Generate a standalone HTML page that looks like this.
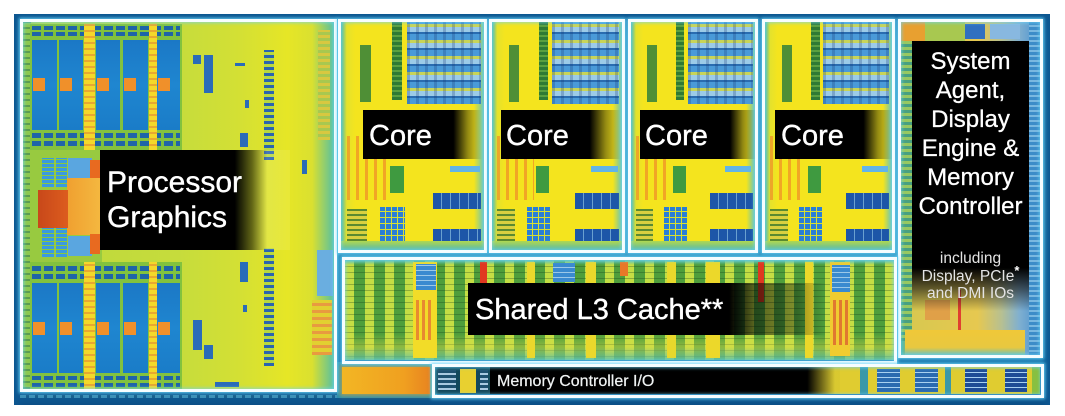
<!DOCTYPE html>
<html><head><meta charset="utf-8">
<style>
*{margin:0;padding:0;box-sizing:border-box}
body{width:1065px;height:416px;background:#fff;position:relative;overflow:hidden;font-family:"Liberation Sans",sans-serif}
.a{position:absolute}
.fr{position:absolute;border:3px solid #f6fdff;box-shadow:0 0 3px 1px rgba(110,215,250,.9),inset 0 0 3px 1px rgba(110,215,250,.7)}
.t{position:absolute;color:#fff;white-space:nowrap}
.blu{background:linear-gradient(180deg,#1b78c6,#1f86d0 50%,#1a7cc8)}
.bar{background:repeating-linear-gradient(90deg,#1e64a8 0 9px,#7cc03c 9px 12px)}
.ys{background:repeating-linear-gradient(0deg,#f4d82a 0 4px,#e8a830 4px 6px)}
.og{background:#f0902a}
.sb{background:#2a6cb8}
.core{position:absolute;top:22px;height:228px;background:linear-gradient(90deg,#4ab8a8 0,#e4e22c 4%,#f4e41e 10%,#f4e41e 93%,#66c4b8 100%);overflow:hidden}
.core i{position:absolute;display:block}
.lab{position:absolute;top:110px;height:49px}
.tr{background:repeating-linear-gradient(90deg,rgba(20,50,110,.25) 0 3px,rgba(0,0,0,0) 3px 9px),repeating-linear-gradient(0deg,#4a9ad8 0 6px,#2a6cb0 6px 8px,#9ccbe8 8px 13px,#c8d458 13px 16px)}
</style></head><body>

<!-- die background -->
<div class="a" style="left:14px;top:14px;width:1036px;height:391px;background:linear-gradient(180deg,#0c5690,#1470a8 6%,#2a8cb8 50%,#1470a8 94%,#0b4e86)"></div>
<div class="a" style="left:14px;top:14px;width:1036px;height:391px;background:linear-gradient(90deg,#0c5690 0,rgba(0,0,0,0) 1%,rgba(0,0,0,0) 99%,#0c5690 100%)"></div>
<div class="a" style="left:20px;top:395px;width:420px;height:3px;background:repeating-linear-gradient(90deg,#3c90b8 0 6px,#18608e 6px 9px)"></div>

<!-- ============ GRAPHICS ============ -->
<div class="a" style="left:23px;top:22px;width:311px;height:367px;background:linear-gradient(90deg,#9ccc44 0,#bcd83c 5%,#c6dc3c 50%,#d4e034 70%,#e6e626 85%,#dae030 93%,#58c0a0 100%)"></div>
<div class="a" style="left:23px;top:22px;width:8px;height:367px;background:repeating-linear-gradient(0deg,#5a9c50 0 2px,#8cc850 2px 6px)"></div>

<!-- top EU -->
<div class="a" style="left:30px;top:24px;width:152px;height:126px;background:#82c23e"></div>
<div class="a bar" style="left:32px;top:26px;width:148px;height:4px"></div>
<div class="a bar" style="left:32px;top:32px;width:148px;height:4px"></div>
<div class="a blu" style="left:32px;top:40px;width:25px;height:90px"></div>
<div class="a blu" style="left:59px;top:40px;width:24px;height:90px"></div>
<div class="a blu" style="left:96px;top:40px;width:24px;height:90px"></div>
<div class="a blu" style="left:123px;top:40px;width:25px;height:90px"></div>
<div class="a blu" style="left:157px;top:40px;width:23px;height:90px"></div>
<div class="a og" style="left:33px;top:78px;width:12px;height:13px"></div>
<div class="a og" style="left:60px;top:78px;width:12px;height:13px"></div>
<div class="a og" style="left:97px;top:78px;width:12px;height:13px"></div>
<div class="a og" style="left:124px;top:78px;width:12px;height:13px"></div>
<div class="a og" style="left:158px;top:78px;width:12px;height:13px"></div>
<div class="a bar" style="left:32px;top:133px;width:148px;height:5px"></div>
<div class="a bar" style="left:32px;top:141px;width:148px;height:5px"></div>
<div class="a ys" style="left:84px;top:24px;width:11px;height:126px"></div>
<div class="a ys" style="left:149px;top:24px;width:8px;height:126px"></div>

<!-- middle left -->
<div class="a" style="left:30px;top:150px;width:72px;height:112px;background:#98ca40"></div>
<div class="a" style="left:42px;top:158px;width:12px;height:29px;background:repeating-linear-gradient(0deg,#3a9ae0 0 3px,#88c840 3px 4px)"></div>
<div class="a" style="left:56px;top:158px;width:11px;height:29px;background:repeating-linear-gradient(0deg,#3a9ae0 0 3px,#88c840 3px 4px)"></div>
<div class="a" style="left:68px;top:158px;width:24px;height:20px;background:#5aa6e0"></div>
<div class="a" style="left:90px;top:160px;width:10px;height:20px;background:#e86a20"></div>
<div class="a" style="left:67px;top:178px;width:34px;height:57px;background:linear-gradient(90deg,#f0a030,#f4b840)"></div>
<div class="a" style="left:38px;top:190px;width:30px;height:38px;background:linear-gradient(90deg,#c8481a,#dc5c1e)"></div>
<div class="a" style="left:42px;top:228px;width:12px;height:29px;background:repeating-linear-gradient(0deg,#3a9ae0 0 3px,#88c840 3px 4px)"></div>
<div class="a" style="left:56px;top:228px;width:11px;height:29px;background:repeating-linear-gradient(0deg,#3a9ae0 0 3px,#88c840 3px 4px)"></div>
<div class="a" style="left:68px;top:236px;width:24px;height:20px;background:#5aa6e0"></div>
<div class="a" style="left:90px;top:234px;width:10px;height:20px;background:#e86a20"></div>

<!-- bottom EU -->
<div class="a" style="left:30px;top:262px;width:152px;height:128px;background:#82c23e"></div>
<div class="a bar" style="left:32px;top:266px;width:148px;height:5px"></div>
<div class="a bar" style="left:32px;top:274px;width:148px;height:5px"></div>
<div class="a blu" style="left:32px;top:283px;width:25px;height:90px"></div>
<div class="a blu" style="left:59px;top:283px;width:24px;height:90px"></div>
<div class="a blu" style="left:96px;top:283px;width:24px;height:90px"></div>
<div class="a blu" style="left:123px;top:283px;width:25px;height:90px"></div>
<div class="a blu" style="left:157px;top:283px;width:23px;height:90px"></div>
<div class="a og" style="left:33px;top:322px;width:12px;height:13px"></div>
<div class="a og" style="left:60px;top:322px;width:12px;height:13px"></div>
<div class="a og" style="left:97px;top:322px;width:12px;height:13px"></div>
<div class="a og" style="left:124px;top:322px;width:12px;height:13px"></div>
<div class="a og" style="left:158px;top:322px;width:12px;height:13px"></div>
<div class="a bar" style="left:32px;top:376px;width:148px;height:4px"></div>
<div class="a bar" style="left:32px;top:383px;width:148px;height:4px"></div>
<div class="a ys" style="left:84px;top:262px;width:11px;height:128px"></div>
<div class="a ys" style="left:149px;top:262px;width:8px;height:128px"></div>

<!-- scattered graphics blocks -->
<div class="a sb" style="left:193px;top:55px;width:8px;height:9px"></div>
<div class="a sb" style="left:204px;top:55px;width:9px;height:38px"></div>
<div class="a sb" style="left:235px;top:63px;width:10px;height:3px"></div>
<div class="a" style="left:264px;top:50px;width:10px;height:110px;background:repeating-linear-gradient(0deg,#2a64b0 0 3px,#b8d840 3px 6px)"></div>
<div class="a sb" style="left:240px;top:133px;width:8px;height:14px"></div>
<div class="a sb" style="left:245px;top:100px;width:4px;height:8px"></div>
<div class="a sb" style="left:302px;top:160px;width:5px;height:14px"></div>
<div class="a sb" style="left:193px;top:320px;width:9px;height:30px"></div>
<div class="a sb" style="left:204px;top:345px;width:9px;height:14px"></div>
<div class="a" style="left:264px;top:248px;width:10px;height:118px;background:repeating-linear-gradient(0deg,#2a64b0 0 3px,#b8d840 3px 6px)"></div>
<div class="a sb" style="left:240px;top:262px;width:8px;height:20px"></div>
<div class="a sb" style="left:243px;top:305px;width:4px;height:7px"></div>
<div class="a" style="left:317px;top:250px;width:16px;height:46px;background:#6aaee0"></div>
<div class="a" style="left:312px;top:300px;width:20px;height:55px;background:repeating-linear-gradient(0deg,#e89a40 0 3px,#e2d030 3px 7px)"></div>
<div class="a sb" style="left:215px;top:382px;width:24px;height:5px"></div>
<div class="a" style="left:318px;top:30px;width:12px;height:110px;background:repeating-linear-gradient(0deg,#d8c840 0 3px,#a8c850 3px 6px)"></div>

<!-- ============ CORES ============ -->
<div class="core" style="left:341px;width:143px">
  <i style="left:36%;width:7%;top:0;height:34%;background:repeating-linear-gradient(0deg,#2f7a34 0 3px,#5aa040 3px 5px)"></i>
  <i class="tr" style="left:46%;width:52%;top:0;height:36%"></i>
  <i style="left:13%;width:8%;top:10%;height:25%;background:#4f8f36"></i>
  <i style="left:4%;width:28%;top:50%;height:28%;background:repeating-linear-gradient(90deg,rgba(240,140,40,.7) 0 3px,transparent 3px 9px)"></i>
  <i style="left:76%;width:21%;top:63%;height:3%;background:#62b4e8"></i>
  <i style="left:34%;width:10%;top:63%;height:12%;background:#3f9a40"></i>
  <i style="left:64%;width:34%;top:75%;height:7%;background:repeating-linear-gradient(90deg,#1d56a8 0 8px,#6aa0d0 8px 9px)"></i>
  <i style="left:64%;width:34%;top:91%;height:6%;background:repeating-linear-gradient(90deg,#1d56a8 0 8px,#6aa0d0 8px 9px)"></i>
  <i style="left:27%;width:18%;top:81%;height:15%;background:repeating-linear-gradient(0deg,transparent 0 5px,#d8e030 5px 6px),repeating-linear-gradient(90deg,#2a7ed6 0 5px,#d8e030 5px 6px)"></i>
  <i style="left:4%;width:14%;top:82%;height:14%;background:repeating-linear-gradient(0deg,#5a8a30 0 2px,#d8d040 2px 5px)"></i>
  <i style="left:0;width:100%;top:96%;height:4%;background:linear-gradient(#b0d850,#58b8a8)"></i>
</div>
<div class="core" style="left:492px;width:130px">
  <i style="left:36%;width:7%;top:0;height:34%;background:repeating-linear-gradient(0deg,#2f7a34 0 3px,#5aa040 3px 5px)"></i>
  <i class="tr" style="left:46%;width:52%;top:0;height:36%"></i>
  <i style="left:13%;width:8%;top:10%;height:25%;background:#4f8f36"></i>
  <i style="left:4%;width:28%;top:50%;height:28%;background:repeating-linear-gradient(90deg,rgba(240,140,40,.7) 0 3px,transparent 3px 9px)"></i>
  <i style="left:76%;width:21%;top:63%;height:3%;background:#62b4e8"></i>
  <i style="left:34%;width:10%;top:63%;height:12%;background:#3f9a40"></i>
  <i style="left:64%;width:34%;top:75%;height:7%;background:repeating-linear-gradient(90deg,#1d56a8 0 8px,#6aa0d0 8px 9px)"></i>
  <i style="left:64%;width:34%;top:91%;height:6%;background:repeating-linear-gradient(90deg,#1d56a8 0 8px,#6aa0d0 8px 9px)"></i>
  <i style="left:27%;width:18%;top:81%;height:15%;background:repeating-linear-gradient(0deg,transparent 0 5px,#d8e030 5px 6px),repeating-linear-gradient(90deg,#2a7ed6 0 5px,#d8e030 5px 6px)"></i>
  <i style="left:4%;width:14%;top:82%;height:14%;background:repeating-linear-gradient(0deg,#5a8a30 0 2px,#d8d040 2px 5px)"></i>
  <i style="left:0;width:100%;top:96%;height:4%;background:linear-gradient(#b0d850,#58b8a8)"></i>
</div>
<div class="core" style="left:631px;width:124px">
  <i style="left:36%;width:7%;top:0;height:34%;background:repeating-linear-gradient(0deg,#2f7a34 0 3px,#5aa040 3px 5px)"></i>
  <i class="tr" style="left:46%;width:52%;top:0;height:36%"></i>
  <i style="left:13%;width:8%;top:10%;height:25%;background:#4f8f36"></i>
  <i style="left:4%;width:28%;top:50%;height:28%;background:repeating-linear-gradient(90deg,rgba(240,140,40,.7) 0 3px,transparent 3px 9px)"></i>
  <i style="left:76%;width:21%;top:63%;height:3%;background:#62b4e8"></i>
  <i style="left:34%;width:10%;top:63%;height:12%;background:#3f9a40"></i>
  <i style="left:64%;width:34%;top:75%;height:7%;background:repeating-linear-gradient(90deg,#1d56a8 0 8px,#6aa0d0 8px 9px)"></i>
  <i style="left:64%;width:34%;top:91%;height:6%;background:repeating-linear-gradient(90deg,#1d56a8 0 8px,#6aa0d0 8px 9px)"></i>
  <i style="left:27%;width:18%;top:81%;height:15%;background:repeating-linear-gradient(0deg,transparent 0 5px,#d8e030 5px 6px),repeating-linear-gradient(90deg,#2a7ed6 0 5px,#d8e030 5px 6px)"></i>
  <i style="left:4%;width:14%;top:82%;height:14%;background:repeating-linear-gradient(0deg,#5a8a30 0 2px,#d8d040 2px 5px)"></i>
  <i style="left:0;width:100%;top:96%;height:4%;background:linear-gradient(#b0d850,#58b8a8)"></i>
</div>
<div class="core" style="left:765px;width:127px">
  <i style="left:36%;width:7%;top:0;height:34%;background:repeating-linear-gradient(0deg,#2f7a34 0 3px,#5aa040 3px 5px)"></i>
  <i class="tr" style="left:46%;width:52%;top:0;height:36%"></i>
  <i style="left:13%;width:8%;top:10%;height:25%;background:#4f8f36"></i>
  <i style="left:4%;width:28%;top:50%;height:28%;background:repeating-linear-gradient(90deg,rgba(240,140,40,.7) 0 3px,transparent 3px 9px)"></i>
  <i style="left:76%;width:21%;top:63%;height:3%;background:#62b4e8"></i>
  <i style="left:34%;width:10%;top:63%;height:12%;background:#3f9a40"></i>
  <i style="left:64%;width:34%;top:75%;height:7%;background:repeating-linear-gradient(90deg,#1d56a8 0 8px,#6aa0d0 8px 9px)"></i>
  <i style="left:64%;width:34%;top:91%;height:6%;background:repeating-linear-gradient(90deg,#1d56a8 0 8px,#6aa0d0 8px 9px)"></i>
  <i style="left:27%;width:18%;top:81%;height:15%;background:repeating-linear-gradient(0deg,transparent 0 5px,#d8e030 5px 6px),repeating-linear-gradient(90deg,#2a7ed6 0 5px,#d8e030 5px 6px)"></i>
  <i style="left:4%;width:14%;top:82%;height:14%;background:repeating-linear-gradient(0deg,#5a8a30 0 2px,#d8d040 2px 5px)"></i>
  <i style="left:0;width:100%;top:96%;height:4%;background:linear-gradient(#b0d850,#58b8a8)"></i>
</div>

<!-- ============ L3 ============ -->
<div class="a" style="left:345px;top:260px;width:549px;height:100px;background:repeating-linear-gradient(180deg,rgba(20,60,20,.3) 0 1px,rgba(0,0,0,0) 1px 6px),repeating-linear-gradient(90deg,#c4de44 0 9px,#4e9e3c 9px 20px)"></div>
<div class="a" style="left:345px;top:260px;width:549px;height:5px;background:linear-gradient(#5cc0b0,rgba(92,192,176,0))"></div>
<div class="a" style="left:345px;top:334px;width:549px;height:26px;background:linear-gradient(rgba(230,220,60,0),rgba(220,220,70,.45) 50%,rgba(90,190,170,.8))"></div>
<div class="a" style="left:413px;top:262px;width:24px;height:96px;background:#f2dc28"></div>
<div class="a" style="left:416px;top:264px;width:20px;height:26px;background:repeating-linear-gradient(0deg,#3a8ad0 0 4px,#9cc8e8 4px 5px)"></div>
<div class="a" style="left:416px;top:300px;width:18px;height:40px;background:repeating-linear-gradient(90deg,#e88a30 0 3px,#f2dc28 3px 6px)"></div>
<div class="a" style="left:480px;top:262px;width:7px;height:22px;background:#e03820"></div>
<div class="a" style="left:527px;top:262px;width:8px;height:96px;background:#ead82c"></div>
<div class="a" style="left:553px;top:263px;width:22px;height:19px;background:repeating-linear-gradient(0deg,#3a8ad0 0 4px,#9cc8e8 4px 5px)"></div>
<div class="a" style="left:586px;top:262px;width:10px;height:96px;background:#ead82c"></div>
<div class="a" style="left:620px;top:262px;width:8px;height:14px;background:#e87828"></div>
<div class="a" style="left:667px;top:262px;width:9px;height:96px;background:#e8d82c"></div>
<div class="a" style="left:706px;top:262px;width:14px;height:96px;background:#ecd82a"></div>
<div class="a" style="left:758px;top:262px;width:6px;height:40px;background:#e03820"></div>
<div class="a" style="left:805px;top:262px;width:8px;height:96px;background:#ecd82a"></div>
<div class="a" style="left:830px;top:262px;width:20px;height:94px;background:#f0cc30"></div>
<div class="a" style="left:832px;top:265px;width:18px;height:27px;background:repeating-linear-gradient(0deg,#3a8ad0 0 4px,#9cc8e8 4px 5px)"></div>
<div class="a" style="left:833px;top:300px;width:16px;height:45px;background:repeating-linear-gradient(90deg,#e07830 0 3px,#f0cc30 3px 6px)"></div>

<!-- ============ SYSTEM AGENT ============ -->
<div class="a" style="left:901px;top:22px;width:139px;height:333px;background:linear-gradient(90deg,#40b0a0 0,#d8c850 8%,#e6c850 55%,#b8c090 72%,#80b0d0 85%,#4890d0 100%)"></div>
<div class="a" style="left:901px;top:22px;width:24px;height:19px;background:#e8a030"></div>
<div class="a" style="left:925px;top:22px;width:40px;height:19px;background:#a8c850"></div>
<div class="a" style="left:965px;top:24px;width:20px;height:15px;background:#3070c0"></div>
<div class="a" style="left:990px;top:24px;width:30px;height:15px;background:#88b8e0"></div>
<div class="a" style="left:1029px;top:22px;width:11px;height:333px;background:repeating-linear-gradient(0deg,#3c8cc8 0 3px,#7ab8e0 3px 5px)"></div>
<div class="a" style="left:901px;top:41px;width:11px;height:300px;background:repeating-linear-gradient(0deg,#48a080 0 3px,#98c860 3px 6px)"></div>
<div class="a" style="left:958px;top:290px;width:3px;height:62px;background:#e04030"></div>
<div class="a" style="left:925px;top:300px;width:25px;height:20px;background:#e0a048"></div>
<div class="a" style="left:905px;top:330px;width:120px;height:25px;background:linear-gradient(180deg,#f0c838,#e8c840 70%,#70c0b0)"></div>

<!-- ============ MC I/O ============ -->
<div class="a" style="left:337px;top:362px;width:100px;height:36px;background:#2a90b0"></div>
<div class="a" style="left:342px;top:367px;width:88px;height:27px;background:linear-gradient(90deg,#f2b624,#f0a020 70%,#e88420);box-shadow:0 0 4px 2px rgba(240,170,40,.6)"></div>
<div class="a" style="left:435px;top:367px;width:605px;height:27px;background:linear-gradient(90deg,#12485c 0,#12485c 8%,#d8c830 60%,#e0cc30 100%)"></div>
<div class="a" style="left:438px;top:370px;width:18px;height:20px;background:repeating-linear-gradient(0deg,#a8c8e0 0 2px,#1e5070 2px 5px)"></div>
<div class="a" style="left:460px;top:369px;width:16px;height:24px;background:#e8d030"></div>
<div class="a" style="left:480px;top:370px;width:8px;height:20px;background:repeating-linear-gradient(0deg,#a8c8e0 0 2px,#1e5070 2px 5px)"></div>
<div class="a" style="left:840px;top:367px;width:200px;height:27px;background:#e0cc30"></div>
<div class="a" style="left:860px;top:367px;width:8px;height:27px;background:#3a98a8"></div>
<div class="a" style="left:877px;top:369px;width:23px;height:23px;background:repeating-linear-gradient(0deg,#2a6ab0 0 4px,#a8d0f0 4px 5px)"></div>
<div class="a" style="left:915px;top:369px;width:23px;height:23px;background:repeating-linear-gradient(0deg,#2a6ab0 0 4px,#a8d0f0 4px 5px)"></div>
<div class="a" style="left:945px;top:367px;width:6px;height:27px;background:#3a98a8"></div>
<div class="a" style="left:965px;top:369px;width:22px;height:23px;background:repeating-linear-gradient(0deg,#1e4c96 0 4px,#a8d0f0 4px 5px)"></div>
<div class="a" style="left:1005px;top:369px;width:22px;height:23px;background:repeating-linear-gradient(0deg,#1e4c96 0 4px,#a8d0f0 4px 5px)"></div>
<div class="a" style="left:1032px;top:367px;width:8px;height:27px;background:#88c040"></div>

<!-- ============ LABELS ============ -->
<div class="a" style="left:100px;top:150px;width:190px;height:100px;background:linear-gradient(90deg,#000 0,#000 71%,rgba(0,0,0,.55) 80%,rgba(255,255,255,.12) 88%,rgba(255,255,255,.08) 100%)"></div>
<div class="t" style="left:107px;top:168px;font-size:30px;line-height:30px;-webkit-text-stroke:.4px #fff">Processor</div>
<div class="t" style="left:107px;top:203px;font-size:30px;line-height:30px;-webkit-text-stroke:.4px #fff">Graphics</div>

<div class="lab" style="left:363px;width:119px;background:linear-gradient(90deg,#000 0,#000 76%,rgba(0,0,0,.4) 88%,rgba(0,0,0,0) 100%)"></div>
<div class="t" style="left:369px;top:122px;font-size:29px;line-height:29px;-webkit-text-stroke:.4px #fff">Core</div>
<div class="lab" style="left:501px;width:120px;background:linear-gradient(90deg,#000 0,#000 74%,rgba(0,0,0,.4) 87%,rgba(0,0,0,0) 100%)"></div>
<div class="t" style="left:506px;top:122px;font-size:29px;line-height:29px;-webkit-text-stroke:.4px #fff">Core</div>
<div class="lab" style="left:640px;width:117px;background:linear-gradient(90deg,#000 0,#000 77%,rgba(0,0,0,.4) 88%,rgba(0,0,0,0) 100%)"></div>
<div class="t" style="left:645px;top:122px;font-size:29px;line-height:29px;-webkit-text-stroke:.4px #fff">Core</div>
<div class="lab" style="left:775px;width:118px;background:linear-gradient(90deg,#000 0,#000 75%,rgba(0,0,0,.4) 87%,rgba(0,0,0,0) 100%)"></div>
<div class="t" style="left:781px;top:122px;font-size:29px;line-height:29px;-webkit-text-stroke:.4px #fff">Core</div>

<div class="a" style="left:468px;top:283px;width:358px;height:52px;background:linear-gradient(90deg,#000 0,#000 73%,rgba(0,0,0,.55) 80%,rgba(0,0,0,.35) 92%,rgba(0,0,0,0) 100%)"></div>
<div class="t" style="left:475px;top:296px;font-size:29px;line-height:29px;-webkit-text-stroke:.4px #fff">Shared L3 Cache**</div>

<div class="a" style="left:490px;top:367px;width:345px;height:27px;background:linear-gradient(90deg,#000 0,#000 92%,rgba(0,0,0,0) 100%)"></div>
<div class="t" style="left:497px;top:374px;font-size:16px;line-height:16px;color:#eef2f2;-webkit-text-stroke:.2px #fff">Memory Controller I/O</div>

<div class="a" style="left:912px;top:41px;width:117px;height:270px;background:linear-gradient(180deg,#000 0,#000 84%,rgba(20,20,20,.6) 92%,rgba(0,0,0,0) 100%)"></div>
<div class="t" style="left:912px;top:47px;width:117px;text-align:center;font-size:24px;line-height:29px;-webkit-text-stroke:.3px #fff">System<br>Agent,<br>Display<br>Engine &amp;<br>Memory<br>Controller</div>
<div class="t" style="left:908px;top:250px;width:125px;text-align:center;font-size:15.5px;line-height:17.5px;color:#e4e4e4">including<br>Display, PCIe<sup style="font-size:13px;line-height:0;color:#fff;font-weight:bold">*</sup><br>and DMI IOs</div>

<!-- ============ FRAMES ============ -->
<div class="fr" style="left:20px;top:19px;width:317px;height:373px"></div>
<div class="fr" style="left:338px;top:19px;width:149px;height:234px"></div>
<div class="fr" style="left:489px;top:19px;width:136px;height:234px"></div>
<div class="fr" style="left:628px;top:19px;width:130px;height:234px"></div>
<div class="fr" style="left:762px;top:19px;width:133px;height:234px"></div>
<div class="fr" style="left:898px;top:19px;width:145px;height:339px"></div>
<div class="fr" style="left:342px;top:257px;width:555px;height:107px"></div>
<div class="fr" style="left:432px;top:364px;width:612px;height:34px"></div>

</body></html>
